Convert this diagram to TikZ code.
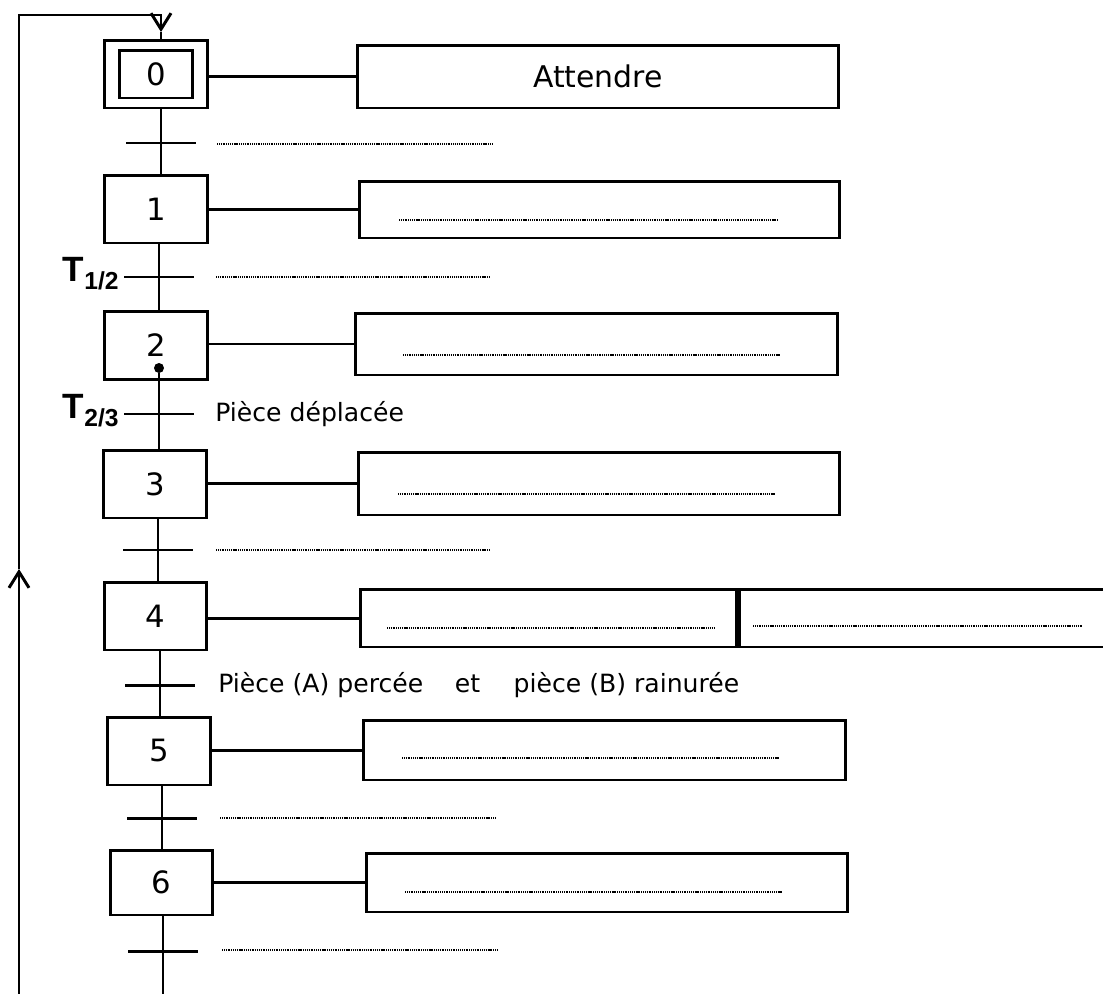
\documentclass[tikz,border=0pt]{standalone}
\usepackage{fontspec}
\setmainfont{DejaVu Sans}
\newfontfamily\arialfont{Liberation Sans}
\usetikzlibrary{arrows.meta,calc}

\begin{document}
\begin{tikzpicture}[
	x=0.02cm, y=-0.02cm,
	stepbox/.style={
		rectangle,
		draw,
		line width=1.7pt,
		minimum width=2.06cm,
		minimum height=1.36cm,
		inner sep=0pt,
		font=\fontsize{17.5}{20}\selectfont
	},
	actionbox/.style={
		rectangle,
		draw,
		line width=1.7pt,
		minimum width=9.62cm,
		minimum height=1.2cm,
		inner sep=0pt
	},
	trans/.style={
		minimum width=1.38cm,
		minimum height=0pt,
		inner sep=0pt
	},
	link/.style={
		line width=1.7pt
	},
	barb/.style={
		-{Straight Barb[length=0.32cm, width=0.4cm]},
		line width=1.7pt
	},
	blank/.style={
		line width=1.5pt,
		dash pattern=on 0.6pt off 0.45pt
	},
	condlabel/.style={
		font=\fontsize{14.3}{16}\selectfont,
		inner sep=0pt
	},
	tlabel/.style={
		font=\arialfont\bfseries,
		inner sep=0pt
	}
	]
	
	\useasboundingbox (0,0) rectangle (1103,994);
	
	% Steps
	\node[stepbox] (s0) at (156,74) {};
	\node[stepbox, minimum width=1.46cm, minimum height=0.96cm] (s0in) at (156,74) {0};
	\node[stepbox] (s1) at (156,209) {1};
	\node[stepbox] (s2) at (156,345.5) {\raisebox{-3pt}{2}};
	\node[stepbox] (s3) at (155,484) {3};
	\node[stepbox] (s4) at (155.5,616) {\raisebox{-3pt}{4}};
	\node[stepbox] (s5) at (159,751) {5};
	\node[stepbox, minimum height=1.3cm] (s6) at (161.5,882.5) {6};
	\node[circle, fill, inner sep=0pt, minimum size=0.2cm] (d2) at (159,368) {};
	
	% Actions
	\node[actionbox, minimum height=1.26cm, font=\fontsize{17}{20}\selectfont] (a0) at (598,76.5) {Attendre};
	\node[actionbox, minimum height=1.14cm] (a1) at (599.5,209.5) {};
	\node[actionbox, minimum width=9.66cm, minimum height=1.24cm] (a2) at (596.5,344) {};
	\node[actionbox, minimum height=1.26cm] (a3) at (599,483.5) {};
	\node[actionbox, minimum width=7.54cm, minimum height=1.16cm] (a4) at (548.5,618) {};
	\node[actionbox, minimum width=8.0cm, minimum height=1.16cm, anchor=west] (a4b) at (a4.east) {};
	\node[actionbox, minimum width=9.66cm] (a5) at (604.5,750) {};
	\node[actionbox, minimum width=9.64cm, minimum height=1.18cm] (a6) at (607,882.5) {};
	
	% Step to action links
	\draw[link] (s0.east |- a0.west) -- (a0.west);
	\draw[link] (s1.east |- a1.west) -- (a1.west);
	\draw[link] (s2.east |- a2.west) -- (a2.west);
	\draw[link] (s3.east |- a3.west) -- (a3.west);
	\draw[link] (s4.east |- a4.west) -- (a4.west);
	\draw[link] (s5.east |- a5.west) -- (a5.west);
	\draw[link] (s6.east |- a6.west) -- (a6.west);
	
	% Transitions
	\node[trans] (t1) at (161,143) {};
	\node[trans] (t2) at (159,277) {};
	\node[trans] (t3) at (159,414) {};
	\node[trans] (t4) at (158,550) {};
	\node[trans] (t5) at (160,685) {};
	\node[trans] (t6) at (162,818) {};
	\node[trans] (t7) at (163,951) {};
	\foreach \t in {t1,t2,t3,t4,t5,t6,t7}
		\draw[link] (\t.west) -- (\t.east);
	
	% Vertical links
	\draw[link] (s0.south -| t1) -- (s1.north -| t1);
	\draw[link] (s1.south -| t2) -- (s2.north -| t2);
	\draw[link] (d2) -- (s3.north -| t3);
	\draw[link] (s3.south -| t4) -- (s4.north -| t4);
	\draw[link] (s4.south -| t5) -- (s5.north -| t5);
	\draw[link] (s5.south -| t6) -- (s6.north -| t6);
	\draw[link] (s6.south -| t7) -- (t7 |- 0,994);
	
	% Loop back to step 0
	\coordinate (lb) at (19,994);
	\coordinate (lup) at (19,569);
	\coordinate (ltop) at (19,15);
	\coordinate (ldown) at (161,32);
	\draw[barb] (lb) -- (lup);
	\draw[barb] (lup) -- (ltop) -| (ldown);
	\draw[link] (ldown) -- (s0.north -| ldown);
	
	% Transition labels
	\node[tlabel, anchor=base east] (l2) at (119,281) {{\fontsize{20}{20}\selectfont T}\raisebox{-5pt}{\fontsize{14}{14}\selectfont 1/2}};
	\node[tlabel, anchor=base east] (l3) at (119,418) {{\fontsize{20}{20}\selectfont T}\raisebox{-5pt}{\fontsize{14}{14}\selectfont 2/3}};
	\node[condlabel, anchor=west] (c3) at (215,414) {Pièce déplacée};
	\node[condlabel, anchor=west] (c5) at (218,685) {Pièce (A) percée\hspace{18pt}et\hspace{19pt}pièce (B) rainurée};
	
	% Blanks
	\draw[blank] (217,144) -- (492,144);
	\draw[blank] (399,220) -- (778,220);
	\draw[blank] (216,277) -- (490,277);
	\draw[blank] (403,355) -- (780,355);
	\draw[blank] (398,494) -- (776,494);
	\draw[blank] (216,550) -- (490,550);
	\draw[blank] (387,628) -- (715,628);
	\draw[blank] (753,626) -- (1082,626);
	\draw[blank] (402,758) -- (780,758);
	\draw[blank] (220,818) -- (495,818);
	\draw[blank] (405,892) -- (783,892);
	\draw[blank] (222,950) -- (497,950);
	
\end{tikzpicture}
\end{document}
